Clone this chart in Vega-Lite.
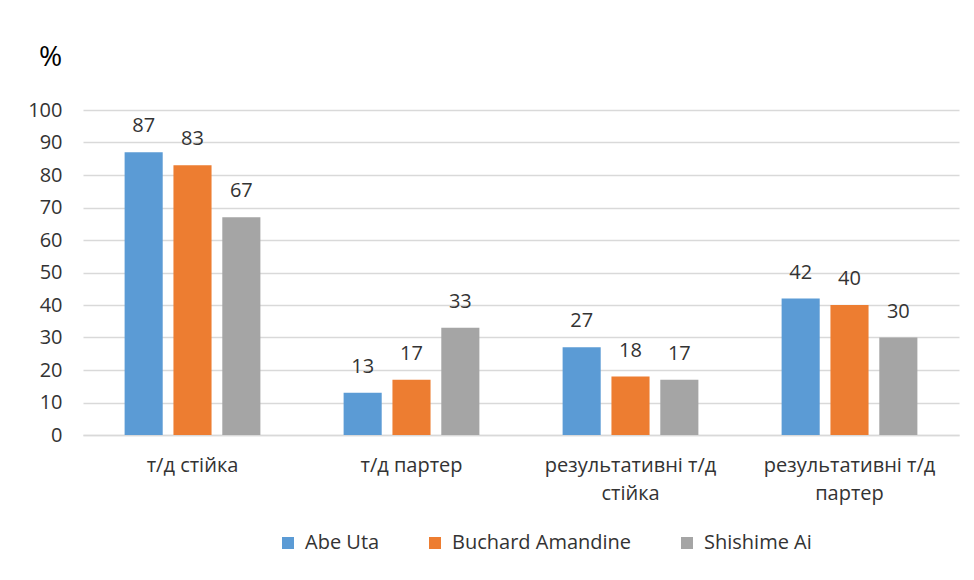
{
  "$schema": "https://vega.github.io/schema/vega-lite/v6.json",
  "width": 876,
  "height": 325,
  "autosize": {"type": "none"},
  "padding": {"left": 83, "top": 110, "right": 15, "bottom": 145},
  "background": "white",
  "config": {
    "font": "Open Sans",
    "view": {"stroke": null},
    "axis": {"labelFont": "Open Sans", "labelColor": "#333333", "titleFont": "Open Sans"},
    "legend": {"labelFont": "Open Sans"}
  },
  "data": {
    "values": [
      {"category": "т/д стійка", "series": "Abe Uta", "value": 87},
      {"category": "т/д стійка", "series": "Buchard Amandine", "value": 83},
      {"category": "т/д стійка", "series": "Shishime Ai", "value": 67},
      {"category": "т/д партер", "series": "Abe Uta", "value": 13},
      {"category": "т/д партер", "series": "Buchard Amandine", "value": 17},
      {"category": "т/д партер", "series": "Shishime Ai", "value": 33},
      {"category": "результативні т/д стійка", "series": "Abe Uta", "value": 27},
      {"category": "результативні т/д стійка", "series": "Buchard Amandine", "value": 18},
      {"category": "результативні т/д стійка", "series": "Shishime Ai", "value": 17},
      {"category": "результативні т/д партер", "series": "Abe Uta", "value": 42},
      {"category": "результативні т/д партер", "series": "Buchard Amandine", "value": 40},
      {"category": "результативні т/д партер", "series": "Shishime Ai", "value": 30}
    ]
  },
  "encoding": {
    "x": {
      "field": "category",
      "type": "nominal",
      "sort": null,
      "scale": {"paddingInner": 0.38, "paddingOuter": 0.19},
      "axis": {
        "title": null,
        "labelAngle": 0,
        "labelFontSize": 20,
        "labelPadding": 20,
        "labelLineHeight": 28,
        "labelBaseline": "top",
        "labelLimit": 0,
        "labelExpr": "indexof(datum.label, 'результативні') == 0 ? ['результативні т/д', substring(datum.label, 18)] : datum.label",
        "ticks": false,
        "domainColor": "#d9d9d9",
        "domainWidth": 1.5
      }
    },
    "xOffset": {
      "field": "series",
      "type": "nominal",
      "sort": null,
      "scale": {"paddingInner": 0.22, "paddingOuter": 0}
    },
    "y": {
      "field": "value",
      "type": "quantitative",
      "scale": {"domain": [0, 100], "nice": false},
      "axis": {
        "title": "%",
        "titleAngle": 0,
        "titleX": -33,
        "titleY": -53,
        "titleAlign": "center",
        "titleBaseline": "middle",
        "titleFontSize": 28,
        "titleFontWeight": "normal",
        "titleColor": "#000000",
        "values": [0, 10, 20, 30, 40, 50, 60, 70, 80, 90, 100],
        "labelFontSize": 20,
        "labelPadding": 21,
        "ticks": false,
        "domain": false,
        "gridColor": "#d9d9d9",
        "gridWidth": 1.5
      }
    },
    "color": {
      "field": "series",
      "type": "nominal",
      "sort": null,
      "scale": {"range": ["#5B9BD5", "#ED7D31", "#A5A5A5"]},
      "legend": {
        "title": null,
        "orient": "none",
        "direction": "horizontal",
        "legendX": 195,
        "legendY": 423,
        "symbolType": "square",
        "symbolSize": 144,
        "symbolStrokeWidth": 0,
        "labelFontSize": 20,
        "labelLimit": 0,
        "labelColor": "#333333",
        "labelOffset": 7,
        "columnPadding": 45
      }
    }
  },
  "layer": [
    {"mark": {"type": "bar"}},
    {
      "mark": {"type": "text", "baseline": "middle", "dy": -26, "fontSize": 20},
      "encoding": {"text": {"field": "value", "type": "quantitative"}, "color": {"value": "#333333"}}
    }
  ]
}
